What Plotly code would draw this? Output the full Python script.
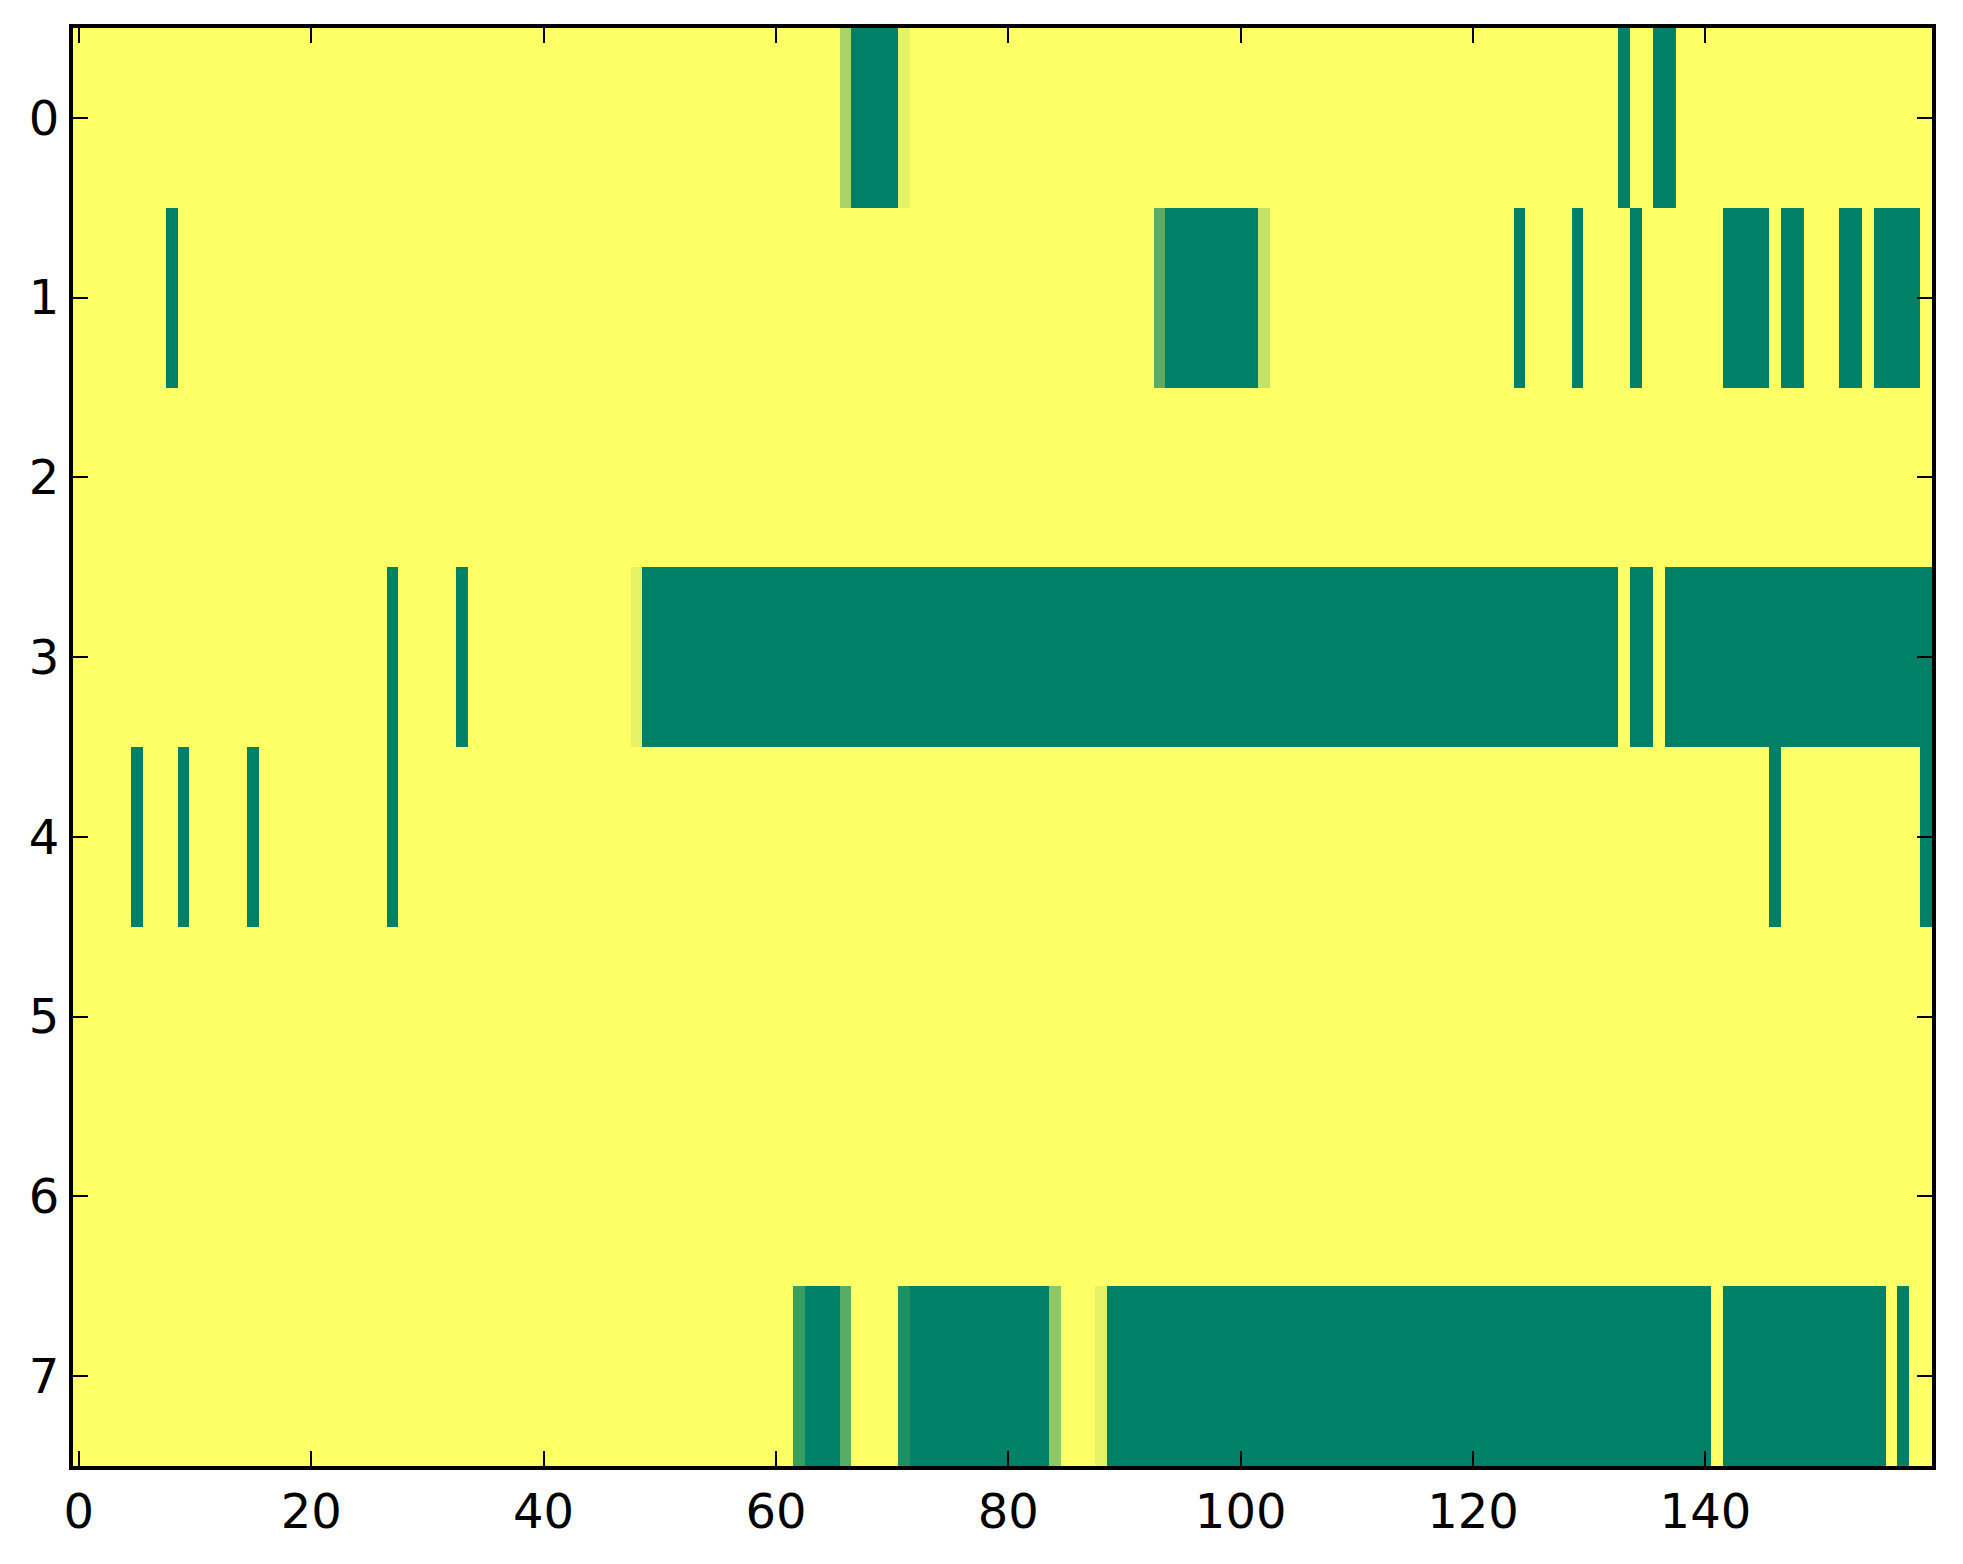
import plotly.graph_objects as go

N_COLS = 160
columns = list(range(N_COLS))
rows = list(range(8))
x_ticks = [0, 20, 40, 60, 80, 100, 120, 140]
y_ticks = [0, 1, 2, 3, 4, 5, 6, 7]

row_0 = [0]*66 + [0.34, 1, 1, 1, 1, 0.10] + [0]*61 + [1, 0, 0, 1, 1] + [0]*22
row_1 = ([0]*8 + [1] + [0]*84 + [0.65] + [1]*8 + [0.23] + [0]*21 + [1] + [0]*4 + [1]
         + [0]*4 + [1] + [0]*7 + [1]*4 + [0] + [1]*2 + [0]*3 + [1]*2 + [0] + [1]*4 + [0])
row_2 = [0]*160
row_3 = ([0]*27 + [1] + [0]*5 + [1] + [0]*14 + [0.10] + [1]*84 + [0] + [1]*2 + [0] + [1]*23)
row_4 = ([0]*5 + [1] + [0]*3 + [1] + [0]*5 + [1] + [0]*11 + [1] + [0]*118 + [1]
         + [0]*12 + [1])
row_5 = [0]*160
row_6 = [0]*160
row_7 = ([0]*62 + [0.77] + [1]*3 + [0.65] + [0]*4 + [0.88] + [1]*12 + [0.44] + [0]*3
         + [0.10] + [1]*52 + [0] + [1]*14 + [0] + [1] + [0]*2)

z = [row_0, row_1, row_2, row_3, row_4, row_5, row_6, row_7]

fig = go.Figure(go.Heatmap(
    z=z, x=columns, y=rows,
    colorscale=[[0, "#ffff66"], [1, "#008066"]],
    zmin=0, zmax=1, showscale=False, hoverongaps=False,
))

axis_common = dict(
    showline=True, linecolor="black", linewidth=4, mirror="ticks",
    ticks="inside", ticklen=15, tickwidth=2, tickcolor="black",
    showgrid=False, zeroline=False,
    tickfont=dict(family="DejaVu Sans", size=48, color="black"),
)

fig.update_layout(
    width=1947, height=1548,
    margin=dict(l=65, r=23, t=20, b=90),
    paper_bgcolor="white", plot_bgcolor="white",
    xaxis=dict(range=[-0.5, 159.5], tickvals=x_ticks, **axis_common),
    yaxis=dict(range=[7.5, -0.5], tickvals=y_ticks, **axis_common),
)

fig.write_html("out.html")
